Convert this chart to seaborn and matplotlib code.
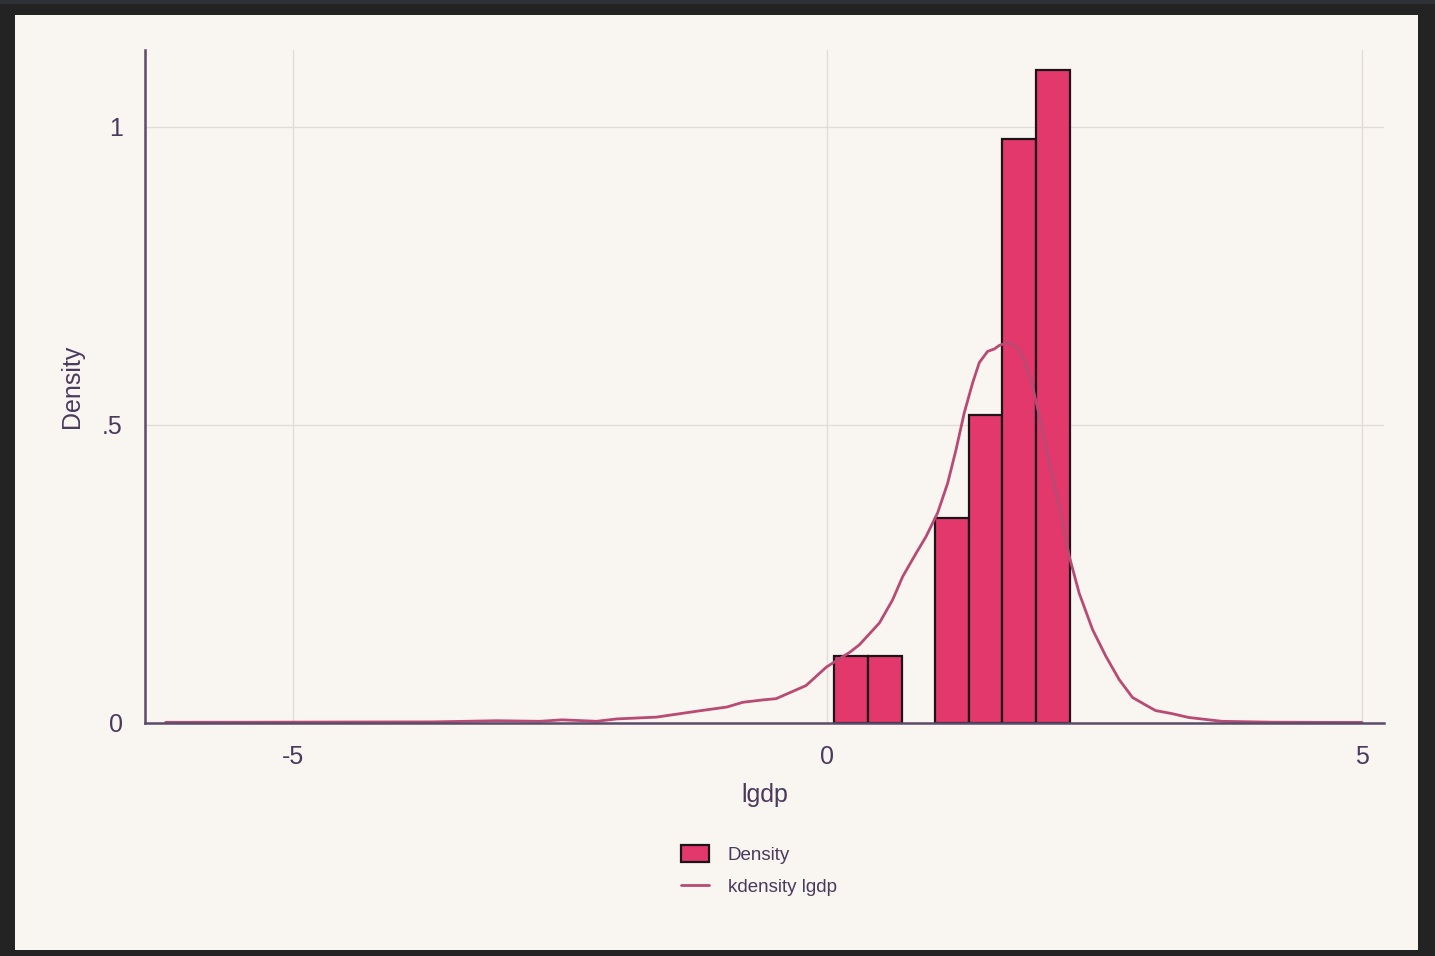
import matplotlib
matplotlib.use("Agg")
import matplotlib.pyplot as plt
from matplotlib.patches import Rectangle, Patch
from matplotlib.lines import Line2D
import seaborn as sns

# Histogram of lgdp: bin edges and density heights
bin_edges = [0.065, 0.379, 0.694, 1.008, 1.322, 1.637, 1.951, 2.265]
bin_density = [0.112, 0.112, 0.0, 0.344, 0.5165, 0.980, 1.0946]

# Kernel density estimate of lgdp
kde_x = [-6.19, -5.5, -4.5, -3.7, -3.09, -2.69, -2.48, -2.16, -1.97, -1.60,
         -1.22, -0.94, -0.79, -0.60, -0.48, -0.20, -0.01, 0.21, 0.299, 0.486,
         0.61, 0.704, 0.829, 0.922, 1.031, 1.125, 1.203, 1.28, 1.358, 1.42,
         1.498, 1.561, 1.607, 1.685, 1.763, 1.841, 1.919, 1.997, 2.075, 2.168,
         2.262, 2.355, 2.48, 2.605, 2.729, 2.854, 2.98, 3.07, 3.22, 3.38,
         3.69, 4.16, 4.6, 5.0]
kde_y = [0.0003, 0.0004, 0.0008, 0.001, 0.003, 0.002, 0.0045, 0.002, 0.006, 0.009,
         0.019, 0.026, 0.034, 0.038, 0.040, 0.062, 0.093, 0.118, 0.1305, 0.167,
         0.206, 0.245, 0.284, 0.312, 0.352, 0.402, 0.458, 0.520, 0.570, 0.604,
         0.623, 0.627, 0.633, 0.638, 0.632, 0.609, 0.564, 0.503, 0.436, 0.363,
         0.279, 0.217, 0.156, 0.111, 0.072, 0.042, 0.029, 0.020, 0.015, 0.0084,
         0.002, 0.0005, 0.0002, 0.0001]

x_ticks = [-5, 0, 5]
x_ticklabels = ["-5", "0", "5"]
y_ticks = [0, 0.5, 1]
y_ticklabels = ["0", ".5", "1"]

CREAM = "#f9f5f1"
BAR = "#e3386c"
LINE = "#b84a74"
AXIS = "#5b4a6a"
TEXT = "#4a3a5c"
GRID = "#e1ddd6"

sns.set_theme(style="white")
plt.rcParams["font.family"] = ["Liberation Sans", "DejaVu Sans"]
plt.rcParams["lines.solid_joinstyle"] = "round"

W, H = 1435, 956
fig = plt.figure(figsize=(W / 100, H / 100), dpi=100)
fig.patch.set_facecolor("#232323")
fig.patches.append(Rectangle((0, 1 - 4 / H), 1, 4 / H, transform=fig.transFigure,
                             facecolor="#2e3236", edgecolor="none", zorder=-10))
fig.patches.append(Rectangle((15 / W, 1 - 950 / H), (1418 - 15) / W, (950 - 15) / H,
                             transform=fig.transFigure, facecolor=CREAM,
                             edgecolor="none", zorder=-10))

ax = fig.add_axes([145 / W, 1 - 722.5 / H, (1384 - 145) / W, (722.5 - 50) / H])
ax.set_facecolor(CREAM)

centers = [(a + b) / 2 for a, b in zip(bin_edges[:-1], bin_edges[1:])]
sns.histplot(x=centers, weights=bin_density, bins=bin_edges, stat="count",
             color=BAR, edgecolor="#1c1418", linewidth=1.6, alpha=1.0, ax=ax,
             zorder=2)
for p in ax.patches:
    if p.get_height() == 0:
        p.set_visible(False)

sns.lineplot(x=kde_x, y=kde_y, sort=False, color=LINE, linewidth=2.0, ax=ax,
             zorder=3)

ax.set_xlim(-6.383, 5.206)
ax.set_ylim(0, 1.129)
ax.set_xticks(x_ticks)
ax.set_xticklabels(x_ticklabels)
ax.set_yticks(y_ticks)
ax.set_yticklabels(y_ticklabels)

ax.grid(True, color=GRID, linewidth=1.0, zorder=0)
ax.set_axisbelow(True)

for s in ["top", "right"]:
    ax.spines[s].set_visible(False)
for s in ["left", "bottom"]:
    ax.spines[s].set_color(AXIS)
    ax.spines[s].set_linewidth(1.8)
    ax.spines[s].set_zorder(4)

ax.tick_params(axis="both", which="both", direction="out", length=9, width=1.5,
               color=AXIS, labelcolor=TEXT, labelsize=18, pad=7)

ax.set_xlabel("lgdp", fontsize=18, color=TEXT, labelpad=10)
ax.set_ylabel("Density", fontsize=18, color=TEXT, labelpad=13)

handles = [Patch(facecolor=BAR, edgecolor="#1c1418", linewidth=1.6),
           Line2D([0], [0], color=LINE, linewidth=2.0)]
fig.legend(handles, ["Density", "kdensity lgdp"], loc="upper center",
           bbox_to_anchor=(759 / W, 1 - 836 / H), frameon=False, fontsize=13.5,
           labelcolor=TEXT, handlelength=1.5, handleheight=1.0,
           handletextpad=1.0, labelspacing=0.7, borderpad=0)

fig.savefig("out.png", dpi=100, facecolor=fig.get_facecolor())
